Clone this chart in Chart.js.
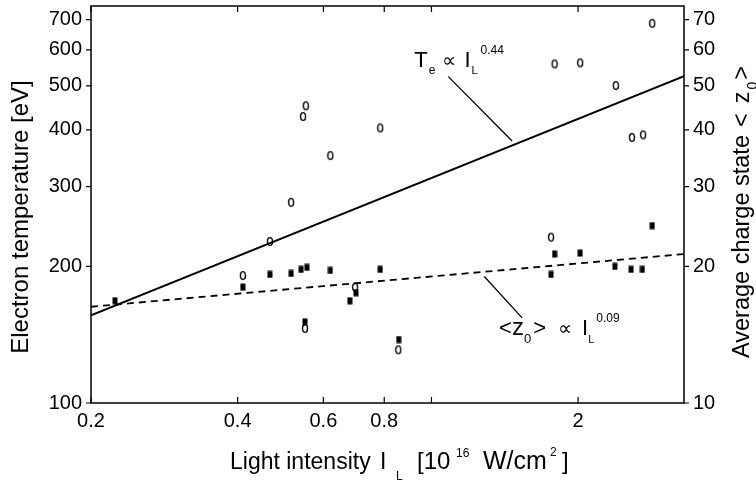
<!DOCTYPE html>
<html lang="en">
<head>
<meta charset="UTF-8">
<title>Electron temperature and charge state vs light intensity</title>
<style>
  body { margin: 0; background: #ffffff; }
  #wrap { width: 756px; height: 482px; position: relative; }
</style>
</head>
<body>
<div id="wrap"><canvas id="plot"></canvas></div>
<script src="https://cdn.jsdelivr.net/npm/chart.js"></script>
<script>
// axis ticks
var xTicks = [0.2, 0.4, 0.6, 0.8, 1, 2];
var xLabels = ['0.2', '0.4', '0.6', '0.8', '', '2'];
var tempTicks = [100, 200, 300, 400, 500, 600, 700];
var chargeTicks = [10, 20, 30, 40, 50, 60, 70];

// open circles: electron temperature [eV]
var tempI = [0.41, 0.466, 0.515, 0.545, 0.552, 0.62, 0.785, 0.55, 0.697, 0.855, 1.76, 1.79, 2.02, 2.39, 2.58, 2.72, 2.84];
var tempE = [191, 227, 277, 428, 452, 351, 404, 146, 180, 131, 232, 559, 562, 501, 385, 390, 687];

// filled squares: average charge state <z0>
var zI = [0.224, 0.41, 0.466, 0.515, 0.54, 0.555, 0.62, 0.785, 0.68, 0.70, 0.55, 0.857, 1.79, 1.76, 2.02, 2.38, 2.57, 2.71, 2.84];
var zVal = [16.8, 18.0, 19.2, 19.3, 19.7, 19.9, 19.6, 19.7, 16.8, 17.5, 15.1, 13.8, 21.3, 19.2, 21.4, 20.0, 19.7, 19.7, 24.6];

// power law fits, end points
var fitI = [0.2, 3.3];
var fitTemp = [156, 525];  // Te ~ I^0.44
var fitZ = [16.3, 21.3];   // <z0> ~ I^0.09

Chart.defaults.font.family = '"Liberation Sans", Arial, sans-serif';
Chart.defaults.color = '#000';

function pairs(xs, ys) {
  return xs.map(function (x, i) { return { x: x, y: ys[i] }; });
}

// little "0" shaped marker like the scanned figure
function makeOval() {
  var c = document.createElement('canvas');
  c.width = 8; c.height = 11;
  var g = c.getContext('2d');
  g.strokeStyle = '#000';
  g.lineWidth = 1.4;
  g.beginPath();
  g.ellipse(4, 5.5, 2.5, 3.9, 0, 0, 2 * Math.PI);
  g.stroke();
  return c;
}
function makeBlock() {
  var c = document.createElement('canvas');
  c.width = 6; c.height = 8;
  var g = c.getContext('2d');
  g.fillStyle = '#000';
  g.fillRect(0.5, 0.5, 5, 7);
  return c;
}

// draws a run of text pieces (sub/superscripts) from x,y
function drawRich(ctx, x, y, parts) {
  parts.forEach(function (p) {
    if (p.x !== undefined) x = p.x;
    x += p.dx || 0;
    ctx.font = p.s + 'px "Liberation Sans", Arial, sans-serif';
    ctx.fillText(p.t, x, y + (p.dy || 0));
    x += ctx.measureText(p.t).width;
  });
}

function noPad(s) {
  s.paddingTop = 0; s.paddingBottom = 0; s.paddingLeft = 0; s.paddingRight = 0;
}

var framePlugin = {
  id: 'frame',
  afterDraw: function (chart) {
    var ctx = chart.ctx, a = chart.chartArea;
    var sx = chart.scales.x, sl = chart.scales.y, sr = chart.scales.y2;
    ctx.save();
    ctx.strokeStyle = '#000';
    ctx.fillStyle = '#000';
    ctx.lineWidth = 1.5;
    ctx.strokeRect(a.left, a.top, a.right - a.left, a.bottom - a.top);

    ctx.lineWidth = 1.2;
    ctx.beginPath();
    xTicks.forEach(function (v) {
      var px = sx.getPixelForValue(v);
      ctx.moveTo(px, a.bottom); ctx.lineTo(px, a.bottom - 6);
      ctx.moveTo(px, a.top); ctx.lineTo(px, a.top + 6);
    });
    tempTicks.forEach(function (v) {
      var py = sl.getPixelForValue(v);
      ctx.moveTo(a.left - 5, py); ctx.lineTo(a.left, py);
    });
    chargeTicks.forEach(function (v) {
      var py = sr.getPixelForValue(v);
      ctx.moveTo(a.right, py); ctx.lineTo(a.right + 5, py);
    });
    ctx.stroke();

    // leader lines to the fits
    ctx.lineWidth = 1.3;
    ctx.beginPath();
    ctx.moveTo(sx.getPixelForValue(1.083), sl.getPixelForValue(524));
    ctx.lineTo(sx.getPixelForValue(1.464), sl.getPixelForValue(378));
    ctx.moveTo(sx.getPixelForValue(1.284), sr.getPixelForValue(19.0));
    ctx.lineTo(sx.getPixelForValue(1.535), sr.getPixelForValue(15.4));
    ctx.stroke();

    ctx.textAlign = 'left';
    ctx.textBaseline = 'alphabetic';
    drawRich(ctx, sx.getPixelForValue(0.922), sl.getPixelForValue(549), [
      { t: 'T', s: 22 }, { t: 'e', s: 12, dy: 7, dx: 1 }, { t: '\u221D', s: 20, dx: 7 },
      { t: 'I', s: 22, dx: 8 }, { t: 'L', s: 11, dy: 7, dx: 1 }, { t: '0.44', s: 12, dy: -13, dx: 3 }
    ]);
    drawRich(ctx, sx.getPixelForValue(1.377), sr.getPixelForValue(14.1), [
      { t: '<', s: 22 }, { t: 'z', s: 24 }, { t: '0', s: 13, dy: 8 }, { t: '>', s: 22, dx: 2 },
      { t: '\u221D', s: 20, dx: 12 }, { t: 'I', s: 22, dx: 10 }, { t: 'L', s: 11, dy: 8 },
      { t: '0.09', s: 12, dy: -13, dx: 2 }
    ]);

    // axis titles
    drawRich(ctx, 230, 469, [
      { t: 'Light intensity', s: 23 }, { t: 'I', s: 23, x: 380 }, { t: 'L', s: 12, dy: 11, x: 396 },
      { t: '[10', s: 24, x: 417 }, { t: '16', s: 12, dy: -12, x: 456 },
      { t: 'W/cm', s: 25, x: 483 }, { t: '2', s: 12, dy: -13, x: 550 }, { t: ']', s: 24, x: 562 }
    ]);

    ctx.save();
    ctx.translate(28, 217);
    ctx.rotate(-Math.PI / 2);
    ctx.textAlign = 'center';
    ctx.font = '24px "Liberation Sans", Arial, sans-serif';
    ctx.fillText('Electron temperature [eV]', 0, 0);
    ctx.restore();

    ctx.save();
    ctx.translate(749, 358);
    ctx.rotate(-Math.PI / 2);
    drawRich(ctx, 0, 0, [
      { t: 'Average charge state', s: 23.5 }, { t: '<', s: 23.5, dx: 8 }, { t: 'z', s: 23.5, dx: 10 },
      { t: '0', s: 14, dy: 8, dx: 2 }, { t: '>', s: 23.5, dx: 2 }
    ]);
    ctx.restore();
    ctx.restore();
  }
};

new Chart(document.getElementById('plot'), {
  type: 'scatter',
  data: {
    datasets: [
      {
        label: 'Te fit', data: pairs(fitI, fitTemp), yAxisID: 'y', showLine: true,
        borderColor: '#000', borderWidth: 2, pointRadius: 0
      },
      {
        label: 'z fit', data: pairs(fitI, fitZ), yAxisID: 'y2', showLine: true,
        borderColor: '#000', borderWidth: 1.8, borderDash: [7, 5], pointRadius: 0
      },
      {
        label: 'Electron temperature', data: pairs(tempI, tempE), yAxisID: 'y',
        pointStyle: makeOval(), pointRadius: 4
      },
      {
        label: 'Average charge state', data: pairs(zI, zVal), yAxisID: 'y2',
        pointStyle: makeBlock(), pointRadius: 4
      }
    ]
  },
  options: {
    responsive: true,
    maintainAspectRatio: false,
    animation: false,
    layout: { padding: { top: 6, left: 0, right: 0, bottom: 0 } },
    plugins: { legend: { display: false }, tooltip: { enabled: false } },
    scales: {
      x: {
        type: 'logarithmic', position: 'bottom', min: 0.2, max: 3.3,
        grid: { display: false, drawTicks: false }, border: { display: false },
        afterBuildTicks: function (s) { s.ticks = xTicks.map(function (v) { return { value: v }; }); },
        afterFit: function (s) { s.height = 79; noPad(s); },
        ticks: {
          font: { size: 20 }, padding: 6, autoSkip: false, maxRotation: 0,
          callback: function (v, i) { return xLabels[i]; }
        }
      },
      y: {
        type: 'logarithmic', position: 'left', min: 100, max: 750,
        grid: { display: false, drawTicks: false }, border: { display: false },
        afterBuildTicks: function (s) { s.ticks = tempTicks.map(function (v) { return { value: v }; }); },
        afterFit: function (s) { s.width = 91; noPad(s); },
        ticks: { font: { size: 20 }, padding: 9, callback: function (v) { return String(v); } }
      },
      y2: {
        type: 'logarithmic', position: 'right', min: 10, max: 75,
        grid: { display: false, drawTicks: false }, border: { display: false },
        afterBuildTicks: function (s) { s.ticks = chargeTicks.map(function (v) { return { value: v }; }); },
        afterFit: function (s) { s.width = 72; noPad(s); },
        ticks: { font: { size: 20 }, padding: 9, callback: function (v) { return String(v); } }
      }
    }
  },
  plugins: [framePlugin]
});
</script>
</body>
</html>
